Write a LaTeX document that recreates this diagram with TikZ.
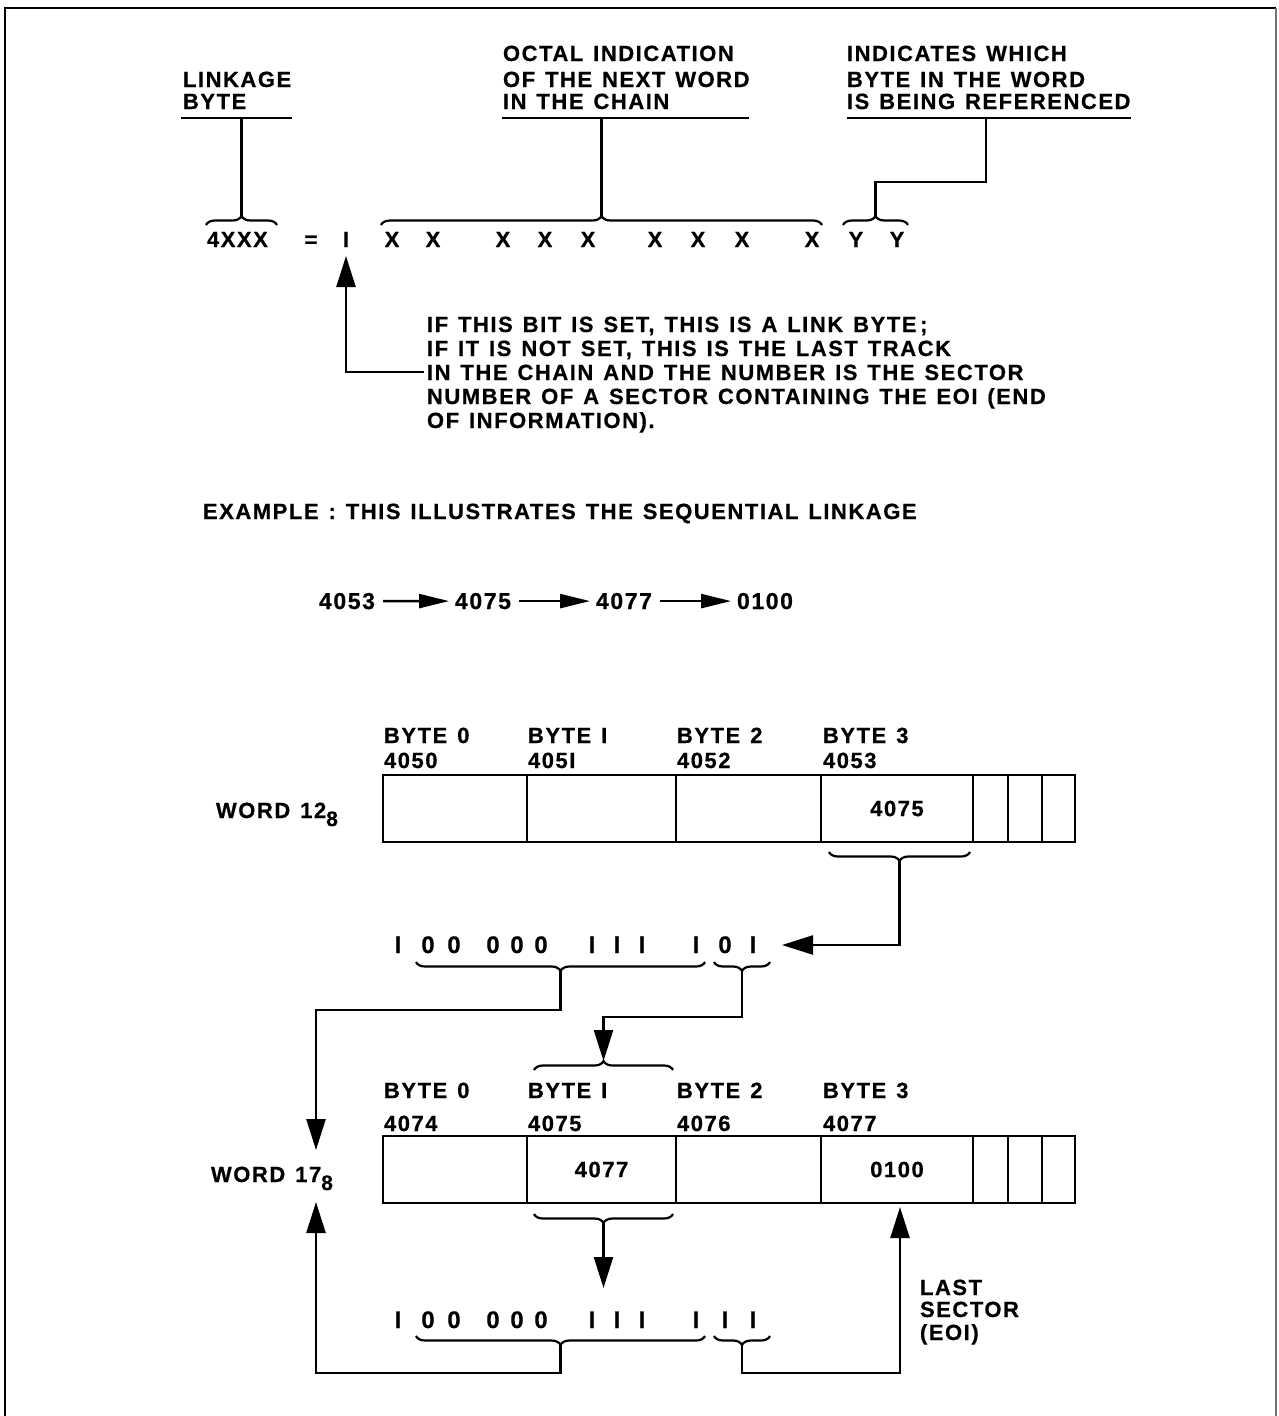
\documentclass[tikz,border=0pt]{standalone}
\usepackage{fontspec}
\setmainfont{Liberation Sans}[LetterSpace=7, WordSpace=1.3, BoldFeatures={FakeBold=0.6}]
\usetikzlibrary{arrows.meta,decorations.pathreplacing}
\begin{document}
\begin{tikzpicture}[x=1pt,y=-1pt,
  every node/.style={inner sep=0pt, outer sep=0pt},
  fnt/.style={font=\fontsize{22}{24}\selectfont\bfseries},
  txt/.style={fnt, anchor=base west},
  ctxt/.style={fnt, anchor=base},
  bits/.style={font=\fontsize{24}{26}\selectfont\bfseries, anchor=base},
  seqn/.style={font=\fontsize{23}{26}\selectfont\bfseries, anchor=base, minimum width=62pt},
  ln/.style={line width=2.4pt, line join=miter},
  bigtip/.style={-{Triangle[length=31pt,width=19pt]}},
  seqtip/.style={-{Triangle[length=30pt,width=14pt]}},
  brc/.style={line width=2.2pt, decorate, decoration={brace, amplitude=9pt}},
  brcd/.style={line width=2.2pt, decorate, decoration={brace, amplitude=9pt, mirror}},
  cell/.style={draw, line width=2.2pt, minimum height=67pt, anchor=north west, fnt}
]
\useasboundingbox (0,0) rectangle (1278,1416);
% frame
\draw[line width=2pt] (5,1416) -- (5,8) -- (1276,8);
\draw[line width=1.5pt, black!55] (1276,8) -- (1276,1416);

% ---------- top labels ----------
\node[txt] (lk1) at (183,87) {LINKAGE};
\node[txt] (lk2) at (183,109) {BYTE};
\node[txt] (oc1) at (503,61) {OCTAL INDICATION};
\node[txt] (oc2) at (503,87) {OF THE NEXT WORD};
\node[txt] (oc3) at (503,109) {IN THE CHAIN};
\node[txt] (in1) at (847,61) {INDICATES WHICH};
\node[txt] (in2) at (847,87) {BYTE IN THE WORD};
\node[txt] (in3) at (847,109) {IS BEING REFERENCED};
\draw[ln] (181,118) -- (292,118);
\draw[ln] (502,118) -- (749,118);
\draw[ln] (847,118) -- (1131,118);
\coordinate (uL) at (241.5,118);
\coordinate (uO) at (601.5,118);
\coordinate (uI) at (986,118);

% ---------- formula row ----------
\node[txt] (f4) at (207,247) {4XXX};
\node[ctxt] (feq) at (311,247) {=};
\node[ctxt] (fone) at (346,247) {I};
\foreach \xx [count=\i] in {392,433,503,545,588,655,698,742,812}
  \node[ctxt] (fx\i) at (\xx,247) {X};
\node[ctxt] (fy1) at (856,247) {Y};
\node[ctxt] (fy2) at (897,247) {Y};

\draw[brc] (206,225) -- (277,225);
\draw[brc] (381,225) -- (822,225);
\draw[brc] (843,225) -- (908,225);
\coordinate (bL) at (241.5,216);
\coordinate (bO) at (601.5,216);
\coordinate (bI) at (875.5,216);
\draw[ln] (bL) -- (uL);
\draw[ln] (bO) -- (uO);
\draw[ln] (bI) -- (875.5,182) -- (986,182) -- (uI);

% ---------- annotation ----------
\node[txt] (a1) at (427,332) {IF THIS BIT IS SET, THIS IS A LINK BYTE\,;};
\node[txt] (a2) at (427,356) {IF IT IS NOT SET, THIS IS THE LAST TRACK};
\node[txt] (a3) at (427,380) {IN THE CHAIN AND THE NUMBER IS THE SECTOR};
\node[txt] (a4) at (427,404) {NUMBER OF A SECTOR CONTAINING THE EOI (END};
\node[txt] (a5) at (427,428) {OF INFORMATION).};
\coordinate (tipone) at (346,256);
\coordinate (a3in) at (424,372);
\draw[ln,bigtip] (a3in) -- (346,372) -- (tipone);

% ---------- example ----------
\node[txt] (ex) at (203,519) {EXAMPLE : THIS ILLUSTRATES THE SEQUENTIAL LINKAGE};
\node[seqn] (s1) at (347,609) {4053};
\node[seqn] (s2) at (483,609) {4075};
\node[seqn] (s3) at (624,609) {4077};
\node[seqn] (s4) at (765,609) {0100};
\draw[ln,seqtip,shorten <=5pt,shorten >=3pt] (s1.east) -- (s2.west);
\draw[ln,seqtip,shorten <=5pt,shorten >=3pt] (s2.east) -- (s3.west);
\draw[ln,seqtip,shorten <=5pt,shorten >=3pt] (s3.east) -- (s4.west);

% ---------- word 12 ----------
\node[txt] (w12) at (216,818) {WORD 12\raisebox{-8pt}{\fontsize{21}{22}\selectfont 8}};
\node[txt] (b0a) at (384,743) {BYTE 0};
\node[txt] (b0b) at (384,768) {4050};
\node[txt] (b1a) at (528,743) {BYTE I};
\node[txt] (b1b) at (528,768) {405I};
\node[txt] (b2a) at (677,743) {BYTE 2};
\node[txt] (b2b) at (677,768) {4052};
\node[txt] (b3a) at (823,743) {BYTE 3};
\node[txt] (b3b) at (823,768) {4053};
\node[cell, minimum width=144pt] (c0) at (383,775) {};
\node[cell, minimum width=149pt] (c1) at (527,775) {};
\node[cell, minimum width=145pt] (c2) at (676,775) {};
\node[cell, minimum width=152pt] (c3) at (821,775) {4075};
\node[cell, minimum width=35pt] (c4) at (973,775) {};
\node[cell, minimum width=34pt] (c5) at (1008,775) {};
\node[cell, minimum width=33pt] (c6) at (1042,775) {};

\draw[brcd] (829,852) -- (970,852);
\coordinate (t3) at (899.5,861);

% bits row 1
\foreach \xx/\cc [count=\i] in {398/I,428/0,454/0,493/0,517/0,541/0,592/I,617/I,642/I,696/I,725/0,753/I}
  \node[bits] (r1b\i) at (\xx,953) {\cc};
\coordinate (r1end) at (782,945);
\draw[ln,bigtip] (t3) -- (899.5,945) -- (r1end);
\draw[brcd] (416,962) -- (705,962);
\draw[brcd] (714,962) -- (770,962);
\coordinate (r1big) at (560.5,971);
\coordinate (r1sm) at (742,971);

% ---------- word 17 ----------
\node[txt] (w17) at (211,1182) {WORD 17\raisebox{-8pt}{\fontsize{21}{22}\selectfont 8}};
\node[txt] (d0a) at (384,1098) {BYTE 0};
\node[txt] (d0b) at (384,1131) {4074};
\node[txt] (d1a) at (528,1098) {BYTE I};
\node[txt] (d1b) at (528,1131) {4075};
\node[txt] (d2a) at (677,1098) {BYTE 2};
\node[txt] (d2b) at (677,1131) {4076};
\node[txt] (d3a) at (823,1098) {BYTE 3};
\node[txt] (d3b) at (823,1131) {4077};
\node[cell, minimum width=144pt] (e0) at (383,1136) {};
\node[cell, minimum width=149pt] (e1) at (527,1136) {4077};
\node[cell, minimum width=145pt] (e2) at (676,1136) {};
\node[cell, minimum width=152pt] (e3) at (821,1136) {0100};
\node[cell, minimum width=35pt] (e4) at (973,1136) {};
\node[cell, minimum width=34pt] (e5) at (1008,1136) {};
\node[cell, minimum width=33pt] (e6) at (1042,1136) {};

\draw[brc] (534,1070) -- (673,1070);
\coordinate (tb1) at (603.5,1061);
\coordinate (w17top) at (316,1150);
\draw[ln,bigtip] (r1big) -- (560.5,1010) -- (316,1010) -- (w17top);
\draw[ln,bigtip] (r1sm) -- (742,1017) -- (603.5,1017) -- (tb1);

\draw[brcd] (534,1214) -- (673,1214);
\coordinate (bb1) at (603.5,1223);
\coordinate (r2top) at (603.5,1288);
\draw[ln,bigtip] (bb1) -- (r2top);

% bits row 2
\foreach \xx/\cc [count=\i] in {398/I,428/0,454/0,493/0,517/0,541/0,592/I,617/I,642/I,696/I,725/I,753/I}
  \node[bits] (r2b\i) at (\xx,1328) {\cc};
\draw[brcd] (416,1336) -- (705,1336);
\draw[brcd] (714,1336) -- (770,1336);
\coordinate (r2big) at (560.5,1345);
\coordinate (r2sm) at (742,1345);
\coordinate (w17bot) at (316,1202);
\coordinate (lastup) at (900,1207);
\draw[ln,bigtip] (r2big) -- (560.5,1373) -- (316,1373) -- (w17bot);
\draw[ln,bigtip] (r2sm) -- (742,1373) -- (900,1373) -- (lastup);

\node[txt] (ls1) at (920,1295) {LAST};
\node[txt] (ls2) at (920,1317) {SECTOR};
\node[txt] (ls3) at (920,1340) {(EOI)};
\end{tikzpicture}
\end{document}
